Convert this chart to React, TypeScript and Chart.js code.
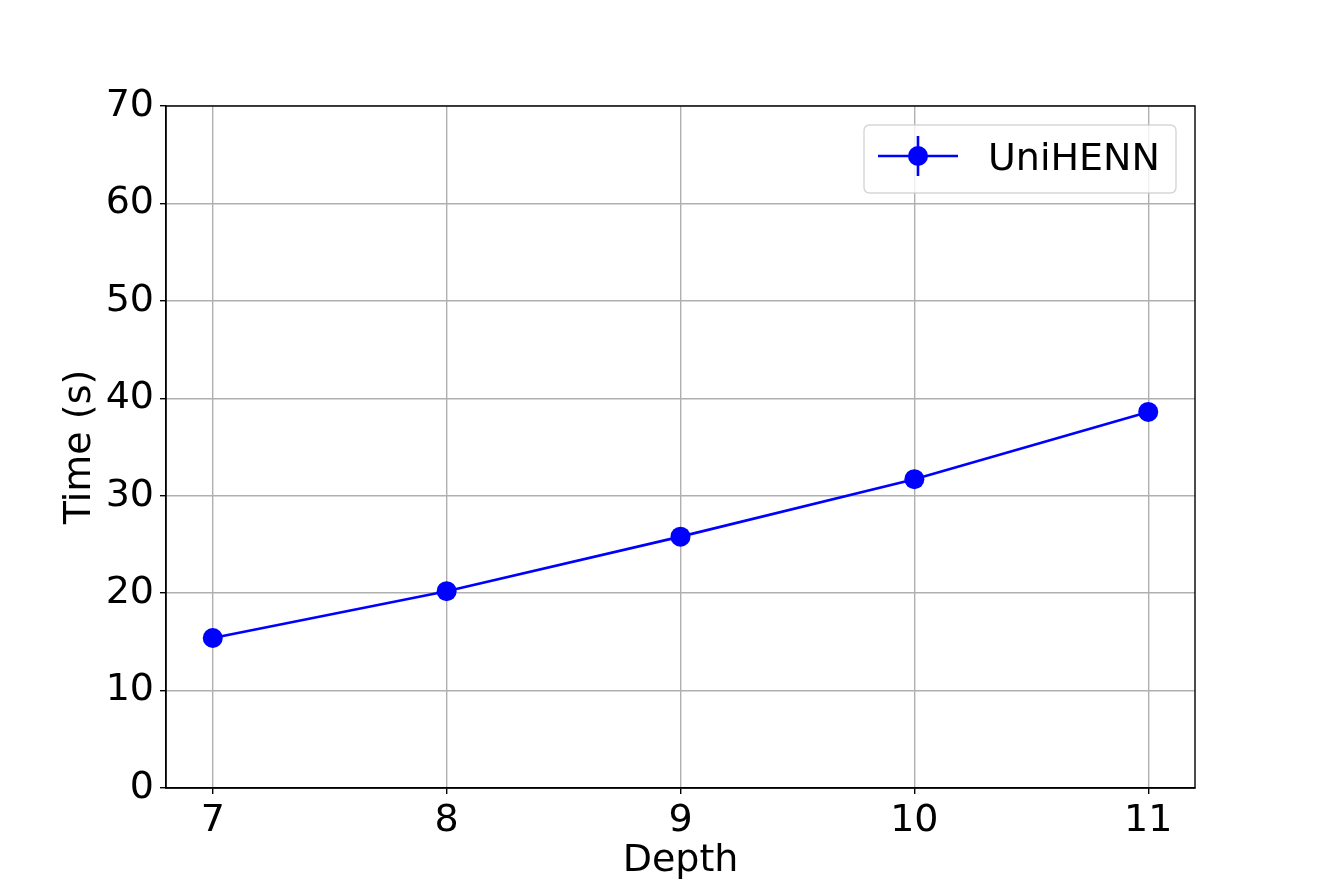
import React, { useEffect, useRef } from "react";
import { Chart, registerables } from "chart.js";

Chart.register(...registerables);

const DEPTHS = [7, 8, 9, 10, 11];
const TIMES = [15.4, 20.2, 25.8, 31.7, 38.6];
const X_TICKS = [7, 8, 9, 10, 11];
const SERIES_LABEL = "UniHENN";
const X_TITLE = "Depth";
const Y_TITLE = "Time (s)";

const FONT = "'DejaVu Sans', sans-serif";
const BLUE = "#0000ff";

const framePlugin = {
  id: "frame",
  afterDatasetsDraw(chart: any) {
    const { ctx, chartArea } = chart;
    ctx.save();
    ctx.strokeStyle = "#000";
    ctx.lineWidth = 1.4;
    ctx.strokeRect(chartArea.left, chartArea.top, chartArea.right - chartArea.left, chartArea.bottom - chartArea.top);
    ctx.restore();
  },
};

const legendPlugin = {
  id: "mplLegend",
  afterDraw(chart: any) {
    const { ctx, chartArea } = chart;
    const right = chartArea.right - 19;
    const top = chartArea.top + 19;
    const w = 312;
    const h = 68;
    const left = right - w;
    const r = 6;
    ctx.save();
    ctx.beginPath();
    ctx.moveTo(left + r, top);
    ctx.lineTo(left + w - r, top);
    ctx.quadraticCurveTo(left + w, top, left + w, top + r);
    ctx.lineTo(left + w, top + h - r);
    ctx.quadraticCurveTo(left + w, top + h, left + w - r, top + h);
    ctx.lineTo(left + r, top + h);
    ctx.quadraticCurveTo(left, top + h, left, top + h - r);
    ctx.lineTo(left, top + r);
    ctx.quadraticCurveTo(left, top, left + r, top);
    ctx.closePath();
    ctx.fillStyle = "rgba(255,255,255,0.8)";
    ctx.fill();
    ctx.strokeStyle = "rgba(204,204,204,0.8)";
    ctx.lineWidth = 1.4;
    ctx.stroke();

    const cy = top + 31;
    const cx = left + 54;
    ctx.strokeStyle = BLUE;
    ctx.lineWidth = 2.6;
    ctx.beginPath();
    ctx.moveTo(left + 14, cy);
    ctx.lineTo(left + 94, cy);
    ctx.stroke();
    ctx.beginPath();
    ctx.moveTo(cx, cy - 20);
    ctx.lineTo(cx, cy + 20);
    ctx.stroke();
    ctx.fillStyle = BLUE;
    ctx.beginPath();
    ctx.arc(cx, cy, 10, 0, Math.PI * 2);
    ctx.fill();

    ctx.fillStyle = "#000";
    ctx.font = `38px ${FONT}`;
    ctx.textAlign = "left";
    ctx.textBaseline = "alphabetic";
    ctx.fillText(SERIES_LABEL, left + 124, cy + 14);
    ctx.restore();
  },
};

export default function App() {
  const canvasRef = useRef<HTMLCanvasElement | null>(null);

  useEffect(() => {
    if (!canvasRef.current) return;
    const chart = new Chart(canvasRef.current, {
      type: "line",
      data: {
        datasets: [
          {
            label: SERIES_LABEL,
            data: DEPTHS.map((d, i) => ({ x: d, y: TIMES[i] })),
            borderColor: BLUE,
            backgroundColor: BLUE,
            borderWidth: 2.6,
            pointRadius: 10,
            pointHoverRadius: 10,
            pointBackgroundColor: BLUE,
            pointBorderWidth: 0,
            tension: 0,
          },
        ],
      },
      options: {
        responsive: false,
        animation: false,
        events: [],
        layout: { padding: { top: 106, right: 134, left: 0, bottom: 0 } },
        plugins: {
          legend: { display: false },
          tooltip: { enabled: false },
        },
        scales: {
          x: {
            type: "linear",
            min: 6.8,
            max: 11.2,
            afterBuildTicks: (axis: any) => {
              axis.ticks = X_TICKS.map((v) => ({ value: v }));
            },
            afterFit: (scale: any) => {
              scale.height = 98;
            },
            ticks: {
              color: "#000",
              font: { family: FONT, size: 38 },
              padding: 4,
              maxRotation: 0,
              autoSkip: false,
              callback: (v: any) => String(v),
            },
            grid: {
              color: "#b0b0b0",
              lineWidth: 1.4,
              tickColor: "#000",
              tickLength: 6,
              tickWidth: 1.4,
            },
            border: { display: true, color: "#000", width: 1.4 },
            title: {
              display: true,
              text: X_TITLE,
              color: "#000",
              font: { family: FONT, size: 38 },
              padding: { top: 0, bottom: 2 },
            },
          },
          y: {
            type: "linear",
            min: 0,
            max: 70,
            afterFit: (scale: any) => {
              scale.width = 166;
            },
            ticks: {
              stepSize: 10,
              color: "#000",
              font: { family: FONT, size: 38 },
              padding: 6,
            },
            grid: {
              color: "#b0b0b0",
              lineWidth: 1.4,
              tickColor: "#000",
              tickLength: 6,
              tickWidth: 1.4,
            },
            border: { display: true, color: "#000", width: 1.4 },
            title: {
              display: true,
              text: Y_TITLE,
              color: "#000",
              font: { family: FONT, size: 38 },
              padding: { top: 57, bottom: 0 },
            },
          },
        },
      },
      plugins: [framePlugin, legendPlugin],
    } as any);
    return () => chart.destroy();
  }, []);

  return (
    <div style={{ position: "absolute", left: 0, top: 0, width: 1329, height: 886, background: "#fff" }}>
      <canvas ref={canvasRef} width={1329} height={886} style={{ width: 1329, height: 886 }} />
    </div>
  );
}
